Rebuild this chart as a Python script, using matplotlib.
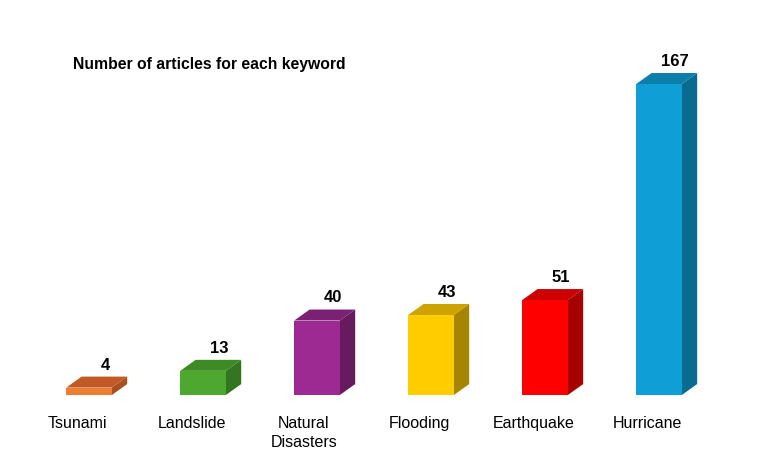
import numpy as np
import matplotlib
matplotlib.use("Agg")
import matplotlib.pyplot as plt
from matplotlib.patches import Polygon

plt.rcParams['font.family'] = ['Liberation Sans', 'DejaVu Sans']

keywords = ["Tsunami", "Landslide", "Natural\nDisasters", "Flooding", "Earthquake", "Hurricane"]
counts = [4, 13, 40, 43, 51, 167]
front_colors = ["#ED7D31", "#4EA72E", "#9C2A92", "#FFCC00", "#FF0000", "#0F9ED5"]
top_colors = ["#C25A26", "#3E8A24", "#7B2173", "#CCA300", "#CC0000", "#0C7EAA"]
side_colors = ["#A84F1F", "#347520", "#661B5F", "#A68500", "#A60000", "#0A6A8F"]

width = 0.40
dx = 0.135  # depth of the fake 3d box, x units
dy = 5.9    # depth, y units

fig = plt.figure(figsize=(7.7, 4.58), dpi=100)
ax = fig.add_axes([0, 0, 1, 1])
ax.set_xlim(-0.781, 5.974)
ax.set_ylim(-33.8, 212.1)
ax.axis('off')

x = np.arange(len(counts))
ax.bar(x, counts, width=width, color=front_colors, zorder=3)

for i, v in enumerate(counts):
    l = x[i] - width / 2
    r = x[i] + width / 2
    top = Polygon([(l, v), (r, v), (r + dx, v + dy), (l + dx, v + dy)],
                  closed=True, color=top_colors[i], lw=0, zorder=3)
    side = Polygon([(r, 0), (r + dx, dy), (r + dx, v + dy), (r, v)],
                   closed=True, color=side_colors[i], lw=0, zorder=2)
    ax.add_patch(top)
    ax.add_patch(side)
    ax.text(x[i] + 0.14, v + dy + 3.8, str(v), ha='center', va='baseline',
            fontsize=12, fontweight='bold', zorder=4)
    # category labels, one line at a time (baseline ~33px under the bars)
    lines = keywords[i].split("\n")
    xc = x[i] - 0.1 if len(lines) == 1 else x[i] - 0.115
    for k, line in enumerate(lines):
        ax.text(xc, -17.7 - k * 10.2, line, ha='center', va='baseline',
                fontsize=11.5)

ax.text(-0.14, 175.1, "Number of articles for each keyword", ha='left', va='baseline',
        fontsize=11.3, fontweight='bold')

fig.savefig("out.png", dpi=100)
